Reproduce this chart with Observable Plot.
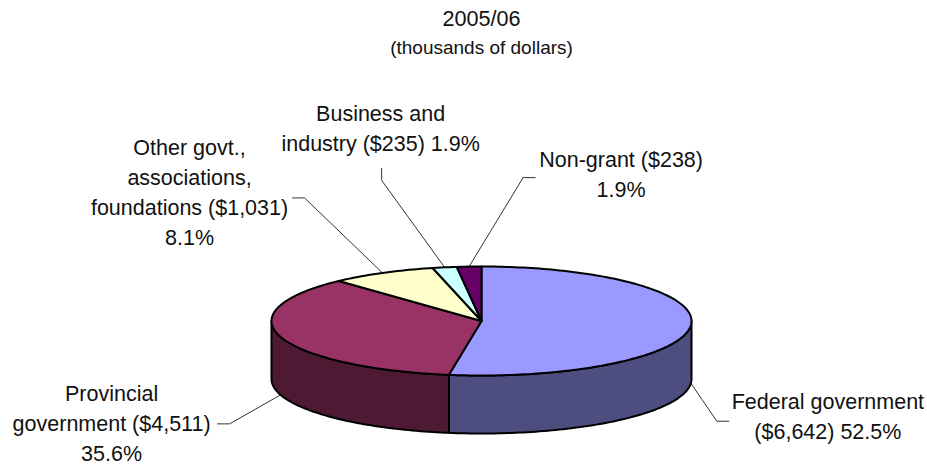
<!DOCTYPE html>
<html>
<head>
<meta charset="utf-8">
<style>html,body{margin:0;padding:0;background:#fff}</style>
<script src="https://cdn.jsdelivr.net/npm/d3@7"></script>
<script src="https://cdn.jsdelivr.net/npm/@observablehq/plot@0.6"></script>
</head>
<body>
<script>
// Data
const categories = ["Federal government","Provincial government","Other govt., associations, foundations","Business and industry","Non-grant"];
const values = [6642, 4511, 1031, 235, 238];
const labels = [
  "Federal government\n($6,642) 52.5%",
  "Provincial\ngovernment ($4,511)\n35.6%",
  "Other govt.,\nassociations,\nfoundations ($1,031)\n8.1%",
  "Business and\nindustry ($235) 1.9%",
  "Non-grant ($238)\n1.9%"
];
const title = "2005/06";
const subtitle = "(thousands of dollars)";

// Styles and layout, kept apart from the data
const topColors  = ["#9999FF","#993366","#FFFFCC","#CCFFFF","#660066"];
const wallColors = ["#4D4D80","#4D1933","#80806A","#668080","#330033"];
const pxX = 210, pxY = 54.5, depth = 58 / pxY;   // pie radii in pixels and wall depth in y units
// leader geometry in pixels: elbow and tail offsets from the slice anchor, label offset from the tail
const callouts = [
  {elbow:[26,38],  tail:[38,38],   label:[99,-6.5]},
  {elbow:[-51,29], tail:[-63,29],  label:[-106,-2]},
  {elbow:[-78,-75],tail:[-90,-75], label:[-103,-8]},
  {elbow:[-63,-87],tail:[-63,-99], label:[-1,-41.5]},
  {elbow:[54,-89], tail:[66,-89],  label:[86,-5]}
];

const arcs = d3.pie().sort(null).startAngle(0).endAngle(2 * Math.PI)(values);
const px = a => Math.sin(a), py = a => -Math.cos(a);
const arcPts = (a0, a1) => {
  const n = Math.max(2, Math.ceil(Math.abs(a1 - a0) / 0.02));
  return d3.range(n + 1).map(i => a0 + (a1 - a0) * i / n);
};

const tops = [], walls = [];
arcs.forEach((s, i) => {
  const p = [[0, 0], ...arcPts(s.startAngle, s.endAngle).map(a => [px(a), py(a)]), [0, 0]];
  p.forEach(([x, y]) => tops.push({key: i, x, y, color: topColors[i]}));
  const a0 = Math.max(s.startAngle, Math.PI / 2), a1 = Math.min(s.endAngle, 3 * Math.PI / 2);
  if (a0 < a1) {
    const arc = arcPts(a0, a1);
    const w = [...arc.map(a => [px(a), py(a)]), ...arc.slice().reverse().map(a => [px(a), py(a) + depth]), [px(a0), py(a0)]];
    w.forEach(([x, y]) => walls.push({key: i, x, y, color: wallColors[i]}));
  }
});

const leaders = [], texts = [];
arcs.forEach((s, i) => {
  const mid = (s.startAngle + s.endAngle) / 2;
  const front = Math.cos(mid) < 0;
  const ax = px(mid), ay = py(mid) + (front ? depth : 0);
  const c = callouts[i];
  const off = ([dx, dy]) => [ax + dx / pxX, ay + dy / pxY];
  [[ax, ay], off(c.elbow), off(c.tail)].forEach(([x, y]) => leaders.push({key: i, x, y}));
  const [tx, ty] = off(c.tail);
  texts.push({text: labels[i], x: tx + c.label[0] / pxX, y: ty + c.label[1] / pxY});
});

const chart = Plot.plot({
  width: 927, height: 466,
  margin: 0,
  x: {domain: [-1, 1], range: [271, 691], axis: null},
  y: {domain: [-1, 1], range: [266, 375], axis: null},
  color: {type: "identity"},
  style: {background: "#fff", fontFamily: "'Liberation Sans', Arial, sans-serif"},
  marks: [
    Plot.line(leaders, {x: "x", y: "y", z: "key", stroke: "#333", strokeWidth: 1, curve: "linear"}),
    Plot.line(walls, {x: "x", y: "y", z: "key", fill: "color", stroke: "#000", strokeWidth: 2, strokeLinejoin: "round"}),
    Plot.line(tops, {x: "x", y: "y", z: "key", fill: "color", stroke: "#000", strokeWidth: 2, strokeLinejoin: "round"}),
    Plot.text(texts, {x: "x", y: "y", text: "text", fontSize: 21.5, lineHeight: 30 / 21.5, textAnchor: "middle", lineAnchor: "middle", fill: "#111"}),
    Plot.text([title], {x: () => 0, frameAnchor: "top", dy: 10, fontSize: 21.6, lineAnchor: "top", fill: "#111"}),
    Plot.text([subtitle], {x: () => 0, frameAnchor: "top", dy: 40, fontSize: 19, lineAnchor: "top", fill: "#111"})
  ]
});
document.body.appendChild(chart);
</script>
</body>
</html>
